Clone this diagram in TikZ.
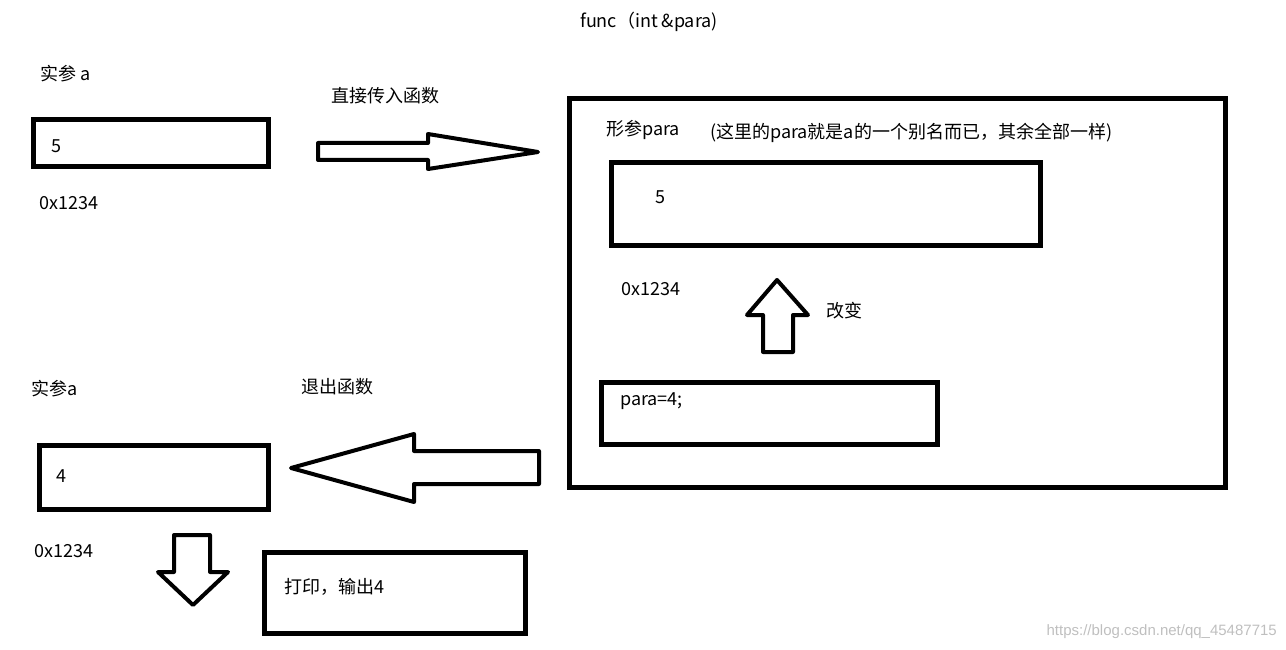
\documentclass[tikz,border=0pt]{standalone}
\usepackage{fontspec}
\setmainfont{Noto Sans CJK SC}
\newfontfamily\markfont{Liberation Sans}
\usepackage{tikz}
\usetikzlibrary{positioning}

\tikzset{
  lbl/.style={inner sep=0pt, anchor=west, font=\fontsize{18}{22}\selectfont},
  membox/.style={draw, line width=5pt, inner sep=0pt},
  blockarrow/.style={draw, line width=4pt, line join=round, fill=white},
}

\begin{document}
\begin{tikzpicture}[x=1pt,y=-1pt]
\useasboundingbox (0,0) rectangle (1286,650);
% title
\node[lbl, anchor=center] (title) at (649,22) {func（int \&para)};
% actual argument before the call
\node[lbl] (argA) at (40,74) {实参 a};
\node[membox, minimum width=235, minimum height=47] (boxA) at (151,143.5) {};
\node[lbl] (valA) at (51,146) {5};
\node[lbl] (addrA) at (39,203) {0x1234};
\node[lbl] (passIn) at (331,96) {直接传入函数};
\draw[blockarrow] (318,143) -- (428,143) -- (428,134) -- (538,152) -- (428,169) -- (428,160) -- (318,160) -- cycle;
% function body
\node[membox, minimum width=656, minimum height=389] (func) at (897.5,293) {};
\node[lbl] (param) at (606,130) {形参para};
\node[lbl] (note) at (710,133) {(这里的para就是a的一个别名而已，其余全部一样)};
\node[membox, minimum width=429, minimum height=83] (boxP) at (826,204) {};
\node[lbl] (valP) at (655,197) {5};
\node[lbl] (addrP) at (621,289) {0x1234};
\draw[blockarrow] (777,280) -- (808,315) -- (793,315) -- (793,352) -- (763,352) -- (763,315) -- (747,315) -- cycle;
\node[lbl] (change) at (826,311) {改变};
\node[membox, minimum width=336, minimum height=62] (assign) at (769.5,413.5) {};
\node[lbl] (assignTxt) at (620,401) {para=4;};
% actual argument after the call
\draw[blockarrow] (539,451) -- (414,451) -- (414,434) -- (291,468) -- (414,502) -- (414,484) -- (539,484) -- cycle;
\node[lbl] (leave) at (301,387) {退出函数};
\node[lbl] (argB) at (31,389) {实参a};
\node[membox, minimum width=229, minimum height=64] (boxB) at (154,477.5) {};
\node[lbl] (valB) at (56,476) {4};
\node[lbl] (addrB) at (34,551) {0x1234};
\draw[blockarrow] (174,535) -- (210,535) -- (210,572) -- (228,572) -- (193,605) -- (158,572) -- (174,572) -- cycle;
\node[membox, minimum width=261, minimum height=81] (print) at (395,593) {};
\node[lbl] (printTxt) at (284,587) {打印，输出4};
% watermark
\node[inner sep=0pt, anchor=east, text=black!25, font=\markfont\fontsize{15}{18}\selectfont] (mark) at (1277,632) {https://blog.csdn.net/qq\_45487715};
\end{tikzpicture}
\end{document}
